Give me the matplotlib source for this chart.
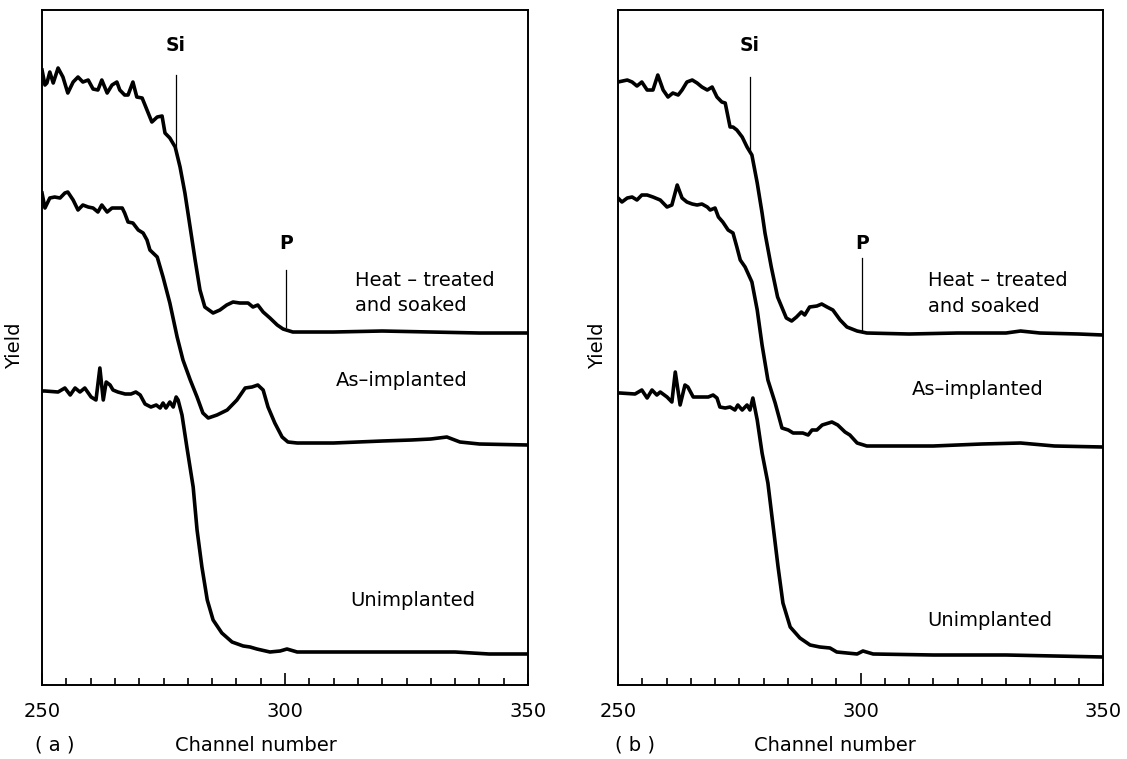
import matplotlib.pyplot as plt
from matplotlib.ticker import MultipleLocator

plt.rcParams['font.family'] = ['DejaVu Sans']

# ---- panel (a) ----
a_heat_ch = [250, 250.6, 251, 251.6, 252.3, 253.3, 254.3, 255.3, 256.4, 257.4, 258.4, 259.5,
             260.5, 261.5, 262.3, 263.4, 264.4, 265.4, 266, 267, 267.7, 268.7, 269.5, 270.6,
             271.6, 272.6, 273.7, 274.7, 275.3, 276.3, 277.4, 278.4, 279.4, 280.5, 281.5,
             282.5, 283.5, 285.2, 286.6, 288, 289.3, 290.7, 292.4, 293.4, 294.4, 295.5,
             296.9, 298.4, 299.6, 301.6, 310, 320, 330, 340, 350]
a_heat_y = [615, 600, 602, 613, 602, 617, 608, 592, 603, 608, 603, 605,
            596, 595, 605, 592, 600, 603, 595, 590, 590, 603, 588, 587,
            575, 563, 568, 569, 552, 547, 538, 518, 492, 457, 425,
            395, 378, 372, 375, 380, 383, 382, 382, 378, 380, 373,
            367, 360, 356, 353, 353, 354, 353, 352, 352]

a_as_ch = [250, 250.6, 251.6, 252.6, 253.7, 254.7, 255.3, 256.4, 257.4, 258.4, 259.5, 260.5,
           261.5, 262.3, 263.4, 264.4, 265.4, 266.5, 267, 267.7, 268.7, 269.8, 270.8, 271.6,
           272.2, 273.7, 274.9, 276.3, 277.8, 279, 280.5, 281.9, 283.1, 284.2, 286, 288.1,
           290.1, 291.8, 293.2, 294.4, 295.5, 296.5, 297.9, 299.4, 300.6, 302.5, 310, 320,
           326, 330, 333.3, 336, 340, 350]
a_as_y = [492, 477, 487, 488, 487, 492, 493, 485, 475, 480, 478, 477,
          473, 480, 473, 477, 477, 477, 472, 463, 462, 455, 452, 445,
          435, 428, 408, 382, 348, 325, 305, 288, 272, 267, 270, 275,
          285, 297, 298, 300, 295, 278, 262, 248, 243, 242, 242, 244,
          245, 246, 248, 243, 241, 240]

a_un_ch = [250, 250.6, 253.3, 254.7, 255.8, 256.8, 257.8, 258.8, 260.1, 261.1, 261.9, 262.6,
           263.2, 264, 264.6, 265.6, 267.1, 268.3, 269.3, 270.2, 271.2, 272.4, 273.5, 274.3,
           274.9, 275.5, 276.3, 277, 277.6, 278, 278.8, 279.8, 281.1, 281.9, 282.9, 284,
           285.2, 287, 289.1, 291.4, 292.8, 294.2, 296.9, 299, 300.4, 302.5, 304.5, 320,
           335, 342, 350]
a_un_y = [294, 294, 293, 297, 290, 297, 293, 297, 288, 285, 317, 285,
          303, 300, 295, 293, 291, 291, 293, 290, 281, 278, 280, 277,
          282, 277, 283, 278, 288, 285, 270, 238, 198, 155, 118, 85,
          65, 52, 43, 39, 38, 36, 33, 34, 36, 33, 33, 33,
          33, 31, 31]

# ---- panel (b) ----
b_heat_ch = [250, 251.9, 252.9, 253.9, 254.9, 256, 257.2, 258.2, 259.3, 260.3, 261.3, 262.4,
             263.2, 264.2, 265.3, 266.3, 267.3, 268.4, 269.4, 270.4, 271.4, 272.1, 273.1,
             273.7, 274.5, 275.6, 276.6, 277.6, 278.7, 279.7, 280.3, 281.6, 282.9, 284.7,
             285.8, 286.8, 287.8, 288.5, 289.5, 291, 292, 293.1, 294.3, 295.8, 297.2, 299.3,
             301.3, 310, 320, 330, 333, 337, 345, 350]
b_heat_y = [603, 605, 603, 599, 603, 595, 595, 610, 595, 588, 592, 590,
            595, 603, 605, 602, 598, 595, 598, 588, 583, 582, 558,
            558, 555, 548, 538, 530, 502, 472, 452, 418, 388, 367,
            364, 368, 373, 370, 378, 379, 381, 378, 375, 365, 358, 354,
            352, 351, 352, 352, 354, 352, 351, 350]

b_as_ch = [250, 250.8, 251.9, 252.9, 253.9, 254.9, 256, 257.2, 258.7, 260.1, 261.1, 262.2,
           263.2, 264.2, 265.3, 266.3, 267.3, 268.4, 269, 270, 270.7, 271.6, 272.7, 273.7,
           274.5, 275.2, 276.2, 277.6, 278.7, 279.7, 280.9, 282.4, 283.8, 285.1, 286.1,
           288.1, 289.2, 290, 291, 292.1, 294.1, 295.3, 296.8, 297.8, 299.3, 301.3, 303.5,
           315, 325, 333, 340, 350]
b_as_y = [487, 483, 487, 488, 485, 490, 490, 488, 485, 478, 480, 500,
          487, 483, 481, 480, 481, 478, 475, 477, 468, 463, 455, 452,
          438, 425, 418, 403, 375, 340, 305, 282, 257, 255, 252,
          252, 250, 255, 255, 260, 263, 260, 253, 250, 242, 239, 239,
          239, 241, 242, 239, 238]

b_un_ch = [250, 250.4, 253.5, 254.9, 256, 257, 258, 258.7, 260.1, 261.1, 261.8, 262.8,
           263.8, 264.4, 265.5, 267.3, 268.6, 269.6, 270.4, 271, 272.1, 273.1, 274.1, 274.7,
           275.6, 276.6, 277.2, 277.8, 278.7, 279.7, 280.9, 282, 283, 284, 285.5, 287.5,
           289.6, 291.6, 293.7, 295.1, 297.2, 299.3, 300.5, 302.6, 315, 330, 340, 350]
b_un_y = [292, 292, 291, 295, 287, 295, 290, 293, 288, 283, 313, 280,
          300, 298, 288, 288, 288, 290, 287, 278, 277, 278, 275, 280,
          275, 280, 275, 287, 265, 232, 202, 158, 118, 82, 58, 47,
          40, 38, 37, 33, 32, 31, 34, 31, 30, 30, 29, 28]

panels = [
    dict(rect=[0.0373, 0.0975, 0.4312, 0.8893], tag='( a )',
         curves=[(a_heat_ch, a_heat_y), (a_as_ch, a_as_y), (a_un_ch, a_un_y)],
         si=(277.5, 610, 538), p=(300.3, 415, 358),
         labels=[(314.3, 405, 'Heat – treated'), (314.3, 380, 'and soaked'),
                 (310.5, 305, 'As–implanted'), (313.5, 85, 'Unimplanted')],
         yield_x=0.013, tag_x=0.049, cn_x=0.227),
    dict(rect=[0.5484, 0.0975, 0.4303, 0.8893], tag='( b )',
         curves=[(b_heat_ch, b_heat_y), (b_as_ch, b_as_y), (b_un_ch, b_un_y)],
         si=(277.2, 608, 535), p=(300.3, 427, 355),
         labels=[(314.0, 405, 'Heat – treated'), (314.0, 379, 'and soaked'),
                 (310.5, 296, 'As–implanted'), (313.8, 64, 'Unimplanted')],
         yield_x=0.530, tag_x=0.563, cn_x=0.741),
]

fig = plt.figure(figsize=(11.27, 7.59), dpi=100)

for pan in panels:
    ax = fig.add_axes(pan['rect'])
    for ch, y in pan['curves']:
        ax.plot(ch, y, color='black', lw=2.6, solid_joinstyle='round')

    # Si and P edge markers
    sx, s1, s2 = pan['si']
    ax.plot([sx, sx], [s1, s2], color='black', lw=0.9)
    ax.text(sx, 640, 'Si', ha='center', va='center', fontsize=13.5, fontweight='bold')
    px_, p1, p2 = pan['p']
    ax.plot([px_, px_], [p1, p2], color='black', lw=0.9)
    ax.text(px_, 442, 'P', ha='center', va='center', fontsize=13.5, fontweight='bold')

    for x, y, t in pan['labels']:
        ax.text(x, y, t, ha='left', va='center', fontsize=14)

    ax.set_xlim(250, 350)
    ax.set_ylim(0, 675)
    ax.set_xticks([250, 300, 350])
    ax.xaxis.set_minor_locator(MultipleLocator(5))
    ax.set_yticks([])
    ax.tick_params(axis='x', which='major', direction='in', length=9, width=1.2,
                   labelsize=14, pad=12)
    ax.tick_params(axis='x', which='minor', direction='in', length=5, width=1.2)
    for s in ax.spines.values():
        s.set_linewidth(1.4)

    fig.text(pan['yield_x'], 0.545, 'Yield', rotation=90, ha='center', va='center',
             fontsize=14)
    fig.text(pan['tag_x'], 0.018, pan['tag'], ha='center', va='center', fontsize=14)
    fig.text(pan['cn_x'], 0.018, 'Channel number', ha='center', va='center', fontsize=14)

fig.savefig('out.png', dpi=100)
